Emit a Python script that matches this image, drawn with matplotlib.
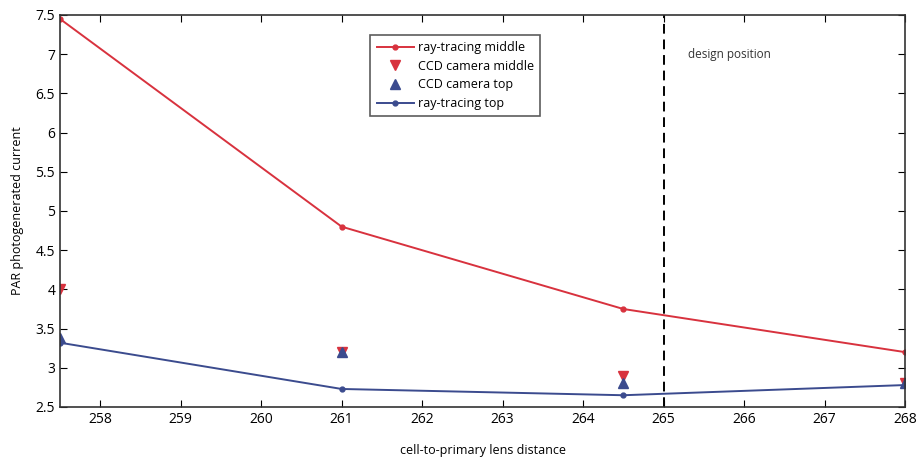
import numpy as np
import matplotlib
matplotlib.use("Agg")
from matplotlib import pyplot as plt

# data
distance = [257.5, 261.0, 264.5, 268.0]
rt_middle = [7.45, 4.80, 3.75, 3.20]
rt_top = [3.32, 2.73, 2.65, 2.78]
ccd_middle = [4.00, 3.20, 2.89, 2.80]
ccd_top = [3.38, 3.20, 2.81, 2.80]
design_pos = 265.0

x_ticks = np.arange(258, 269, 1)
y_ticks = np.arange(2.5, 7.51, 0.5)

red = '#d8323e'
blue = '#3b4b8e'

plt.rcParams['font.family'] = ['Open Sans', 'DejaVu Sans']

fig = plt.figure(figsize=(9.17, 4.57), dpi=100)
ax = fig.add_axes([60/917, 50/457, 845/917, 392/457])

ax.plot(distance, rt_middle, color=red, lw=1.4, marker='o', ms=3.5, label='ray-tracing middle')
ax.plot(distance, ccd_middle, ls='none', color=red, marker='v', ms=6.5, label='CCD camera middle')
ax.plot(distance, ccd_top, ls='none', color=blue, marker='^', ms=6.5, label='CCD camera top')
ax.plot(distance, rt_top, color=blue, lw=1.4, marker='o', ms=3.5, label='ray-tracing top')

ax.axvline(design_pos, color='black', ls=(0, (5, 3)), lw=1.4)
ax.text(265.3, 7.0, 'design position', fontsize=8.5, color='#333333', va='center')

ax.set_xlim(257.5, 268)
ax.set_ylim(2.5, 7.5)
ax.set_xticks(x_ticks)
ax.set_yticks(y_ticks)
ax.set_yticklabels(['%g' % v for v in y_ticks])
ax.tick_params(direction='in', length=5, labelsize=10, top=True, right=True)
for s in ax.spines.values():
    s.set_linewidth(1.2)
    s.set_color('#333333')

ax.set_xlabel('cell-to-primary lens distance', fontsize=9, labelpad=12)
ax.set_ylabel('PAR photogenerated current', fontsize=9, labelpad=8)

leg = ax.legend(loc='upper left', bbox_to_anchor=(0.36, 0.965), fontsize=9,
                frameon=True, fancybox=False, edgecolor='#333333',
                handlelength=3.0, handletextpad=0.3, borderpad=0.5, labelspacing=0.45)
leg.get_frame().set_linewidth(1.2)

fig.savefig('out.png', dpi=100)
